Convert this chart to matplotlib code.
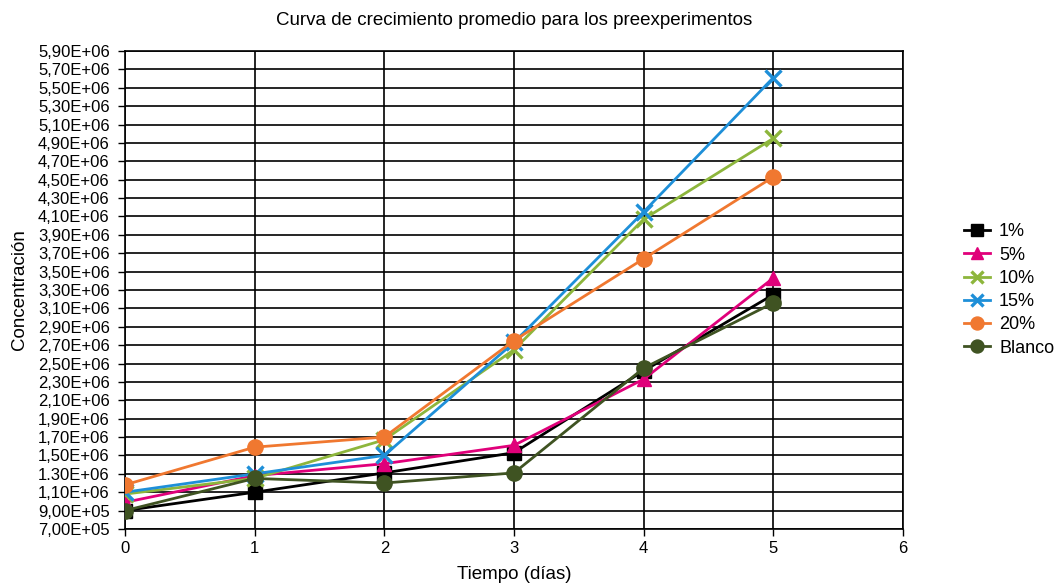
import matplotlib
matplotlib.use('Agg')
import numpy as np
import matplotlib.pyplot as plt

# Datos
dias = [0, 1, 2, 3, 4, 5]
c1 = [0.90e6, 1.10e6, 1.31e6, 1.53e6, 2.42e6, 3.25e6]
c5 = [0.99e6, 1.28e6, 1.41e6, 1.61e6, 2.33e6, 3.43e6]
c10 = [1.08e6, 1.25e6, 1.67e6, 2.65e6, 4.07e6, 4.95e6]
c15 = [1.10e6, 1.30e6, 1.50e6, 2.73e6, 4.15e6, 5.61e6]
c20 = [1.18e6, 1.59e6, 1.70e6, 2.75e6, 3.64e6, 4.53e6]
blanco = [0.90e6, 1.25e6, 1.20e6, 1.31e6, 2.45e6, 3.16e6]

y_ticks = np.arange(7e5, 5.9e6 + 1, 2e5)
y_labels = ['7,00E+05', '9,00E+05', '1,10E+06', '1.30E+06', '1,50E+06', '1,70E+06',
            '1,90E+06', '2,10E+06', '2,30E+06', '2,50E+06', '2,70E+06', '2,90E+06',
            '3,10E+06', '3,30E+06', '3,50E+06', '3,70E+06', '3,90E+06', '4,10E+06',
            '4,30E+06', '4,50E+06', '4,70E+06', '4,90E+06', '5,10E+06', '5,30E+06',
            '5,50E+06', '5,70E+06', '5,90E+06']

plt.rcParams['font.family'] = ['Liberation Sans', 'DejaVu Sans']

fig = plt.figure(figsize=(10.6, 5.86), dpi=100)
ax = fig.add_axes([0.1179, 0.0973, 0.7340, 0.8157])

series = [
    ('1%', c1, '#000000', 's', 10, None),
    ('5%', c5, '#E0007A', '^', 10, None),
    ('10%', c10, '#8DB63C', 'x', 11, 2.4),
    ('15%', c15, '#1E8FD8', 'x', 11, 2.4),
    ('20%', c20, '#F07830', 'o', 11, None),
    ('Blanco', blanco, '#3F5322', 'o', 11, None),
]
for name, vals, col, mk, ms, mew in series:
    kw = {}
    if mew is not None:
        kw['markeredgewidth'] = mew
    ax.plot(dias, vals, color=col, marker=mk, markersize=ms, linewidth=2,
            label=name, zorder=3, **kw)

ax.set_xlim(0, 6)
ax.set_ylim(7e5, 5.9e6)
ax.set_xticks(range(0, 7))
ax.set_yticks(y_ticks)
ax.set_yticklabels(y_labels)
ax.tick_params(axis='both', labelsize=12, direction='out', length=5, width=1)
ax.tick_params(axis='y', pad=6)
ax.grid(True, color='black', linewidth=1.2)
ax.set_axisbelow(True)
for s in ax.spines.values():
    s.set_linewidth(1.2)
    s.set_color('black')

ax.set_xlabel('Tiempo (días)', fontsize=13.5, labelpad=7.5)
ax.set_ylabel('Concentración', fontsize=13.5, labelpad=7)
ax.set_title('Curva de crecimiento promedio para los preexperimentos', fontsize=13.5, pad=19)

ax.legend(loc='center left', bbox_to_anchor=(1.062, 0.5), frameon=False,
          fontsize=13, handlelength=1.45, handletextpad=0.5, labelspacing=0.35,
          markerscale=0.85, borderaxespad=0.3)

fig.savefig('out.png', dpi=100)
